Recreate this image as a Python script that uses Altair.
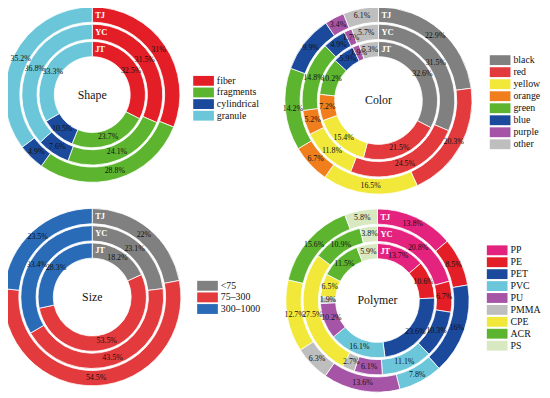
import altair as alt
import pandas as pd

RINGS = ["JT", "YC", "TJ"]  # inner -> outer

shape_cats = ["fiber", "fragments", "cylindrical", "granule"]
shape_colors = ["#E41E26", "#5DB52F", "#1B4A9C", "#6CC6D9"]
shape_JT = [32.5, 23.7, 10.5, 33.3]
shape_YC = [31.5, 24.1, 7.6, 36.8]
shape_TJ = [31.0, 28.8, 4.9, 35.2]

color_cats = ["black", "red", "yellow", "orange", "green", "blue", "purple", "other"]
color_colors = ["#808080", "#E33B3D", "#F1E83A", "#F07E1D", "#5DB52F", "#1B4A9C", "#A655A6", "#BEBEBE"]
color_JT = [32.6, 21.5, 15.4, 7.2, 10.2, 5.9, 1.9, 5.3]
color_YC = [31.5, 24.5, 11.8, 5.2, 14.8, 4.9, 1.7, 5.7]
color_TJ = [22.9, 20.3, 16.5, 6.7, 14.2, 9.9, 3.4, 6.1]

size_cats = ["<75", "75\u2013300", "300\u20131000"]
size_colors = ["#808080", "#E33B3D", "#2A6BB8"]
size_JT = [18.2, 53.5, 28.3]
size_YC = [23.1, 43.5, 33.4]
size_TJ = [22.0, 54.5, 23.5]

poly_cats = ["PP", "PE", "PET", "PVC", "PU", "PMMA", "CPE", "ACR", "PS"]
poly_colors = ["#E4237F", "#E41E26", "#1B4A9C", "#6CC6D9", "#A655A6", "#BEBEBE", "#F1E83A", "#5DB52F", "#D8E8C0"]
poly_JT = [13.7, 10.6, 23.6, 16.1, 10.2, 1.9, 6.5, 11.5, 5.9]
poly_YC = [20.8, 6.7, 10.3, 11.1, 6.1, 2.7, 27.5, 10.9, 3.8]
poly_TJ = [13.8, 8.5, 16.0, 7.8, 13.6, 6.3, 12.7, 15.6, 5.8]

SERIF = "Liberation Serif, Times New Roman, serif"
RECT = "M-2.1,-1H2.1V1H-2.1Z"


def panel(title, cats, colors, ring_vals, cx, cy, R, sx, row0, rowgap):
    rows = []
    for ring, vals in zip(RINGS, ring_vals):
        for i, (c, v) in enumerate(zip(cats, vals)):
            rows.append(dict(ring=ring, cat=c, idx=i, value=v, label=f"{v:g}%"))
    df = pd.DataFrame(rows)
    th, gap = 15.5, 2.0
    legend = alt.Legend(
        title=None, orient="none", legendX=sx + 5.5, legendY=row0 - 5,
        symbolType=RECT, symbolSize=100, symbolStrokeWidth=0,
        labelFont=SERIF, labelFontSize=10, labelColor="#111", labelLimit=200,
        labelOffset=8.5, rowPadding=rowgap - 10.2, padding=0,
    )
    color = alt.Color("cat:N", scale=alt.Scale(domain=cats, range=colors), legend=legend)
    layers = []
    for k, ring in enumerate(RINGS):
        outer = R - (2 - k) * (th + gap)
        inner = outer - th
        mid = (outer + inner) / 2
        base = alt.Chart(df).transform_filter(alt.datum.ring == ring)
        arc = base.mark_arc(radius=outer, radius2=inner, stroke="white", strokeWidth=0.8).encode(
            theta=alt.Theta("value:Q", stack="normalize"),
            order=alt.Order("idx:Q", sort="ascending"),
            color=color,
            x=alt.value(cx), y=alt.value(cy),
        )
        txt = base.mark_text(radius=mid, font=SERIF, fontSize=8, color="#111").encode(
            theta=alt.Theta("value:Q", stack="normalize"),
            order=alt.Order("idx:Q", sort="ascending"),
            text="label:N",
            x=alt.value(cx), y=alt.value(cy),
        )
        rl = alt.Chart(pd.DataFrame({"ring": [ring]})).mark_text(
            font=SERIF, fontSize=8.5, fontWeight="bold", color="white", align="left", baseline="middle"
        ).encode(text="ring:N", x=alt.value(cx + 3), y=alt.value(cy - mid))
        layers += [arc, txt, rl]
    t = alt.Chart(pd.DataFrame({"t": [title]})).mark_text(
        font=SERIF, fontSize=12, color="#111", baseline="middle"
    ).encode(text="t:N", x=alt.value(cx), y=alt.value(cy))
    layers.append(t)
    return alt.layer(*layers)


p1 = panel("Shape", shape_cats, shape_colors, [shape_JT, shape_YC, shape_TJ], 85.5, 85, 89, 188, 71, 12)
p2 = panel("Color", color_cats, color_colors, [color_JT, color_YC, color_TJ], 376, 91, 95, 489, 50, 12.4)
p3 = panel("Size", size_cats, size_colors, [size_JT, size_YC, size_TJ], 85.5, 290.5, 90, 192, 279, 12)
p4 = panel("Polymer", poly_cats, poly_colors, [poly_JT, poly_YC, poly_TJ], 375, 294, 93, 486, 243, 12.3)

chart = alt.layer(p1, p2, p3, p4).resolve_scale(color="independent").properties(
    width=542, height=390, padding=0, autosize="none"
).configure_view(stroke=None)

chart.save("out.html", embed_options={"renderer": "svg", "actions": False})
